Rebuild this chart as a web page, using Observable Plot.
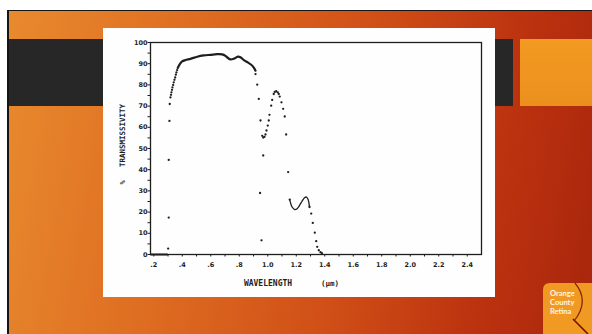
<!DOCTYPE html>
<html>
<head>
<meta charset="utf-8">
<script src="https://cdn.jsdelivr.net/npm/d3@7"></script>
<script src="https://cdn.jsdelivr.net/npm/@observablehq/plot@0.6"></script>
<style>
  html, body { margin: 0; padding: 0; background: #ffffff; }
  body { width: 592px; height: 334px; position: relative; overflow: hidden; font-family: "DejaVu Sans", sans-serif; }
  #slide { position: absolute; left: 7px; top: 10px; width: 585px; height: 324px;
    border-top: 1.5px solid #151515; border-left: 2px solid #151515; box-sizing: border-box;
    background: linear-gradient(100deg, #e88a2e 0%, #de6c21 30%, #d04f17 58%, #bb320f 82%, #a8250c 100%); }
  #bar { position: absolute; left: 9px; top: 39px; width: 504px; height: 67px; background: #272727; }
  #sq { position: absolute; left: 520px; top: 39px; width: 72px; height: 67px; background: linear-gradient(180deg, #f29a22, #ec901d); }
  #panel { position: absolute; left: 103px; top: 28px; width: 392px; height: 269px; background: #fefefe; }
  #chart { position: absolute; left: 103px; top: 28px; }
  #logo { position: absolute; left: 543px; top: 283px; }
</style>
</head>
<body>
<div id="slide"></div>
<div id="bar"></div>
<div id="sq"></div>
<div id="panel"></div>
<div id="chart"></div>
<svg id="logo" width="49" height="51" viewBox="0 0 49 51">
  <path d="M0,7 Q0,0 7,0 L49,0 L49,51 L0,51 Z" fill="#f09a24"/>
  <path d="M32,0 Q47,18 31,38" fill="none" stroke="#8c1a0a" stroke-width="1.2"/>
  <path d="M30,36 L45,51" fill="none" stroke="#6e1508" stroke-width="1.6"/>
  <text x="7" y="12.5" font-family="Lato, sans-serif" font-weight="bold" font-size="7.5" fill="#fff4e4">Orange</text>
  <text x="7" y="21.5" font-family="Lato, sans-serif" font-weight="bold" font-size="7.5" fill="#fff4e4">County</text>
  <text x="7" y="30.5" font-family="Lato, sans-serif" font-weight="bold" font-size="7.5" fill="#fff4e4">Retina</text>
</svg>
<script>
// ---- Data (wavelength in µm, % transmissivity) ----
const xTickValues = [0.2, 0.4, 0.6, 0.8, 1.0, 1.2, 1.4, 1.6, 1.8, 2.0, 2.2, 2.4];
const xTickLabels = [".2", ".4", ".6", ".8", "1.0", "1.2", "1.4", "1.6", "1.8", "2.0", "2.2", "2.4"];
const xMinorTicks = [0.2, 0.3, 0.4, 0.5, 0.6, 0.7, 0.8, 0.9, 1.0, 1.1, 1.2, 1.3, 1.4, 1.5, 1.6, 1.7, 1.8, 1.9, 2.0, 2.1, 2.2, 2.3, 2.4];
const yTickValues = [0, 10, 20, 30, 40, 50, 60, 70, 80, 90, 100];
const yTickLabels = ["0", "10", "20", "30", "40", "50", "60", "70", "80", "90", "100"];
const yMinorTicks = [0, 5, 10, 15, 20, 25, 30, 35, 40, 45, 50, 55, 60, 65, 70, 75, 80, 85, 90, 95, 100];

// baseline (cut-off below 0.3 µm)
const baseX = [0.18, 0.22, 0.26, 0.294];
const baseY = [0, 0, 0, 0];

// continuous plateau traced by the plotter
const plateauX = [0.368, 0.383, 0.399, 0.422, 0.458, 0.505, 0.551, 0.598, 0.645, 0.680, 0.703, 0.722, 0.738, 0.761, 0.790, 0.808, 0.832, 0.860, 0.884, 0.902, 0.914];
const plateauY = [88.0, 89.8, 91.1, 91.7, 92.3, 93.3, 93.9, 94.2, 94.5, 94.4, 93.7, 92.6, 92.0, 92.3, 93.3, 93.0, 91.7, 90.6, 89.5, 88.2, 86.7];

// individual plotted points
const dotX = [0.301, 0.305, 0.305, 0.310, 0.312, 0.317, 0.321, 0.324, 0.328, 0.331, 0.336, 0.340, 0.345, 0.350, 0.355, 0.359, 0.364,
              0.914, 0.926, 0.937, 0.949, 0.946, 0.956, 0.968,
              0.961, 0.968, 0.977, 0.984, 0.991, 1.000, 1.007, 1.012, 1.024, 1.031, 1.042, 1.049, 1.059, 1.070, 1.077, 1.084, 1.096, 1.108, 1.119, 1.129, 1.143, 1.154,
              1.293, 1.305, 1.316, 1.330, 1.340, 1.347, 1.358, 1.370, 1.380];
const dotY = [2.8, 17.4, 44.6, 63.0, 71.0, 74.1, 75.3, 76.5, 77.7, 78.8, 80.0, 81.2, 82.4, 83.5, 84.8, 85.9, 87.0,
              85.1, 80.1, 73.4, 63.2, 29.0, 6.7, 46.7,
              56.0, 55.2, 55.5, 56.6, 58.5, 60.8, 63.2, 65.9, 70.2, 72.9, 75.7, 76.7, 77.0, 76.5, 75.7, 74.5, 71.8, 68.7, 65.1, 56.6, 38.9, 25.9,
              22.4, 19.3, 14.9, 10.3, 6.3, 3.6, 2.0, 1.1, 0.6];

// second (1.2 µm) band, traced nearly continuously
const bumpX = [1.154, 1.171, 1.190, 1.206, 1.223, 1.241, 1.258, 1.272, 1.283, 1.293];
const bumpY = [25.9, 22.4, 21.2, 21.6, 23.2, 25.2, 26.8, 27.1, 25.9, 22.4];

const xTitleWord = "WAVELENGTH";
const xTitleUnit = "(µm)";
const yTitleWord = "TRANSMISSIVITY";
const yTitleUnit = "%";

// ---- build tables ----
const base = baseX.map((x, i) => ({x, y: baseY[i]}));
const plateau = plateauX.map((x, i) => ({x, y: plateauY[i]}));
const dots = dotX.map((x, i) => ({x, y: dotY[i]}));
const bump = bumpX.map((x, i) => ({x, y: bumpY[i]}));
const xLab = new Map(xTickValues.map((v, i) => [v, xTickLabels[i]]));
const yLab = new Map(yTickValues.map((v, i) => [v, yTickLabels[i]]));

const ink = "#1e1e1e";
const mono = "DejaVu Sans Mono, monospace";
const chart = Plot.plot({
  width: 392,
  height: 269,
  marginLeft: 47,
  marginRight: 14,
  marginTop: 14,
  marginBottom: 43,
  style: {background: "transparent", color: ink, fontFamily: "DejaVu Sans, sans-serif"},
  x: {domain: [0.177, 2.5]},
  y: {domain: [0, 100]},
  marks: [
    Plot.frame({stroke: ink, strokeWidth: 1.3}),
    Plot.axisX({ticks: xMinorTicks, tickSize: 2.5, tickFormat: () => "", label: null, stroke: ink}),
    Plot.axisX({ticks: xTickValues, tickSize: 0, tickPadding: 8, tickFormat: d => xLab.get(d),
      fontSize: 6.5, fontWeight: "bold", label: null, fill: ink}),
    Plot.axisY({ticks: yMinorTicks, tickSize: 2.5, tickFormat: () => "", label: null, stroke: ink}),
    Plot.axisY({ticks: yTickValues, tickSize: 0, tickPadding: 3, tickFormat: d => yLab.get(d),
      fontSize: 6.5, fontWeight: "bold", label: null, fill: ink}),
    Plot.line(base, {x: "x", y: "y", stroke: ink, strokeWidth: 2}),
    Plot.line(plateau, {x: "x", y: "y", stroke: ink, strokeWidth: 2.2, curve: "catmull-rom"}),
    Plot.line(bump, {x: "x", y: "y", stroke: ink, strokeWidth: 1.3, curve: "catmull-rom"}),
    Plot.dot(dots, {x: "x", y: "y", r: 1.15, fill: ink, stroke: "none"}),
    Plot.text([xTitleWord], {frameAnchor: "bottom", textAnchor: "middle", dx: -48, dy: 31, text: d => d, fontSize: 8,
      fontWeight: "bold", fontFamily: mono, fill: ink, letterSpacing: "3.2px"}),
    Plot.text([xTitleUnit], {frameAnchor: "bottom", textAnchor: "middle", dx: 14, dy: 31, text: d => d, fontSize: 7.5,
      fontWeight: "bold", fontFamily: mono, fill: ink, letterSpacing: "0.5px"}),
    Plot.text([yTitleWord], {frameAnchor: "left", textAnchor: "middle", dx: -28, dy: -13, rotate: -90, text: d => d, fontSize: 7.5,
      fontWeight: "bold", fontFamily: mono, fill: ink, letterSpacing: "0.9px"}),
    Plot.text([yTitleUnit], {frameAnchor: "left", textAnchor: "middle", dx: -28, dy: 34, rotate: -90, text: d => d, fontSize: 7,
      fontWeight: "bold", fontFamily: mono, fill: ink})
  ]
});
document.getElementById("chart").appendChild(chart);
</script>
</body>
</html>
